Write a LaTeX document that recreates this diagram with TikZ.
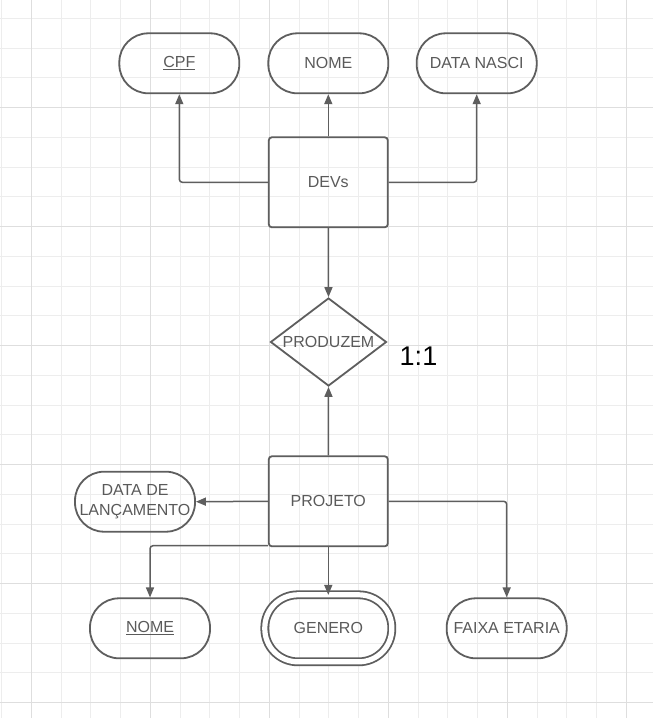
\documentclass[tikz,border=0pt]{standalone}
\usepackage{fontspec}
\setmainfont{Liberation Sans}
\usetikzlibrary{shapes.geometric,arrows.meta}
\definecolor{lc}{HTML}{5E5E5E}
\definecolor{tc}{HTML}{5A5A5A}
\definecolor{gminor}{HTML}{EDEDED}
\definecolor{gmajor}{HTML}{DEDEDE}
\tikzset{
  attr/.style={draw=lc, line width=1.8pt, rectangle, rounded corners=29pt,
    minimum width=120pt, minimum height=60pt, inner sep=0pt, text=tc,
    font=\fontsize{16}{19.5}\selectfont, align=center},
  entity/.style={draw=lc, line width=1.8pt, rectangle, rounded corners=3pt,
    minimum width=119pt, minimum height=90pt, inner sep=0pt, text=tc,
    font=\fontsize{16}{19.5}\selectfont},
  rel/.style={draw=lc, line width=1.8pt, diamond, aspect=1.32, inner sep=0pt,
    minimum width=116pt, minimum height=88pt, text=tc,
    font=\fontsize{16}{19.5}\selectfont},
  conn/.style={draw=lc, line width=1.5pt, rounded corners=3pt,
    -{Triangle[length=10pt,width=8pt]}},
}
\begin{document}
\begin{tikzpicture}[x=1pt,y=-1pt]
\useasboundingbox (0,0) rectangle (653,718);
\fill[white] (0,0) rectangle (653,718);
% grid
\foreach \i in {0,...,21} \draw[gminor, line width=1pt] ({1.7+29.75*\i},0) -- ({1.7+29.75*\i},718);
\foreach \j in {0,...,23} \draw[gminor, line width=1pt] (0,{18.3+29.75*\j}) -- (653,{18.3+29.75*\j});
\foreach \i in {0,...,5} \draw[gmajor, line width=1pt] ({31.7+119*\i},0) -- ({31.7+119*\i},718);
\foreach \j in {0,...,5} \draw[gmajor, line width=1pt] (0,{107.3+119*\j}) -- (653,{107.3+119*\j});

% nodes
\node[attr] (cpf) at (179.3,63.3) {\underline{CPF}};
\node[attr] (nome1) at (328.3,63.3) {NOME};
\node[attr] (nasci) at (476.7,63.3) {DATA NASCI};
\node[entity] (devs) at (328.3,182.3) {DEVs};
\node[rel] (rel) at (328.5,342) {PRODUZEM};
\node[font=\fontsize{27}{30}\selectfont, text=black] (card) at (418.5,356) {1:1};
\node[entity] (proj) at (328.3,501.3) {PROJETO};
\node[attr] (lanc) at (135,501.7) {DATA DE\\LAN\c{C}AMENTO};
\node[attr] (nome2) at (150,628.3) {\underline{NOME}};
\node[attr, double=white, double distance=5.2pt, minimum width=127pt, minimum height=67pt, rounded corners=33pt] (genero) at (328.3,628.3) {GENERO};
\node[attr] (faixa) at (506.7,628.3) {FAIXA ETARIA};

% connectors
\draw[conn] (devs.north) -- (nome1.south);
\draw[conn] (devs.west) -| (cpf.south);
\draw[conn] (devs.east) -| (nasci.south);
\draw[conn] (devs.south) -- (rel.north);
\draw[conn] (proj.north) -- (rel.south);
\draw[conn] (proj.west) -- (lanc.east);
\draw[conn] ([yshift=1.5pt]proj.south west) -| (nome2.north);
\draw[conn] (proj.south) -- ([yshift=-1pt]genero.north);
\draw[conn] (proj.east) -| (faixa.north);
\end{tikzpicture}
\end{document}
